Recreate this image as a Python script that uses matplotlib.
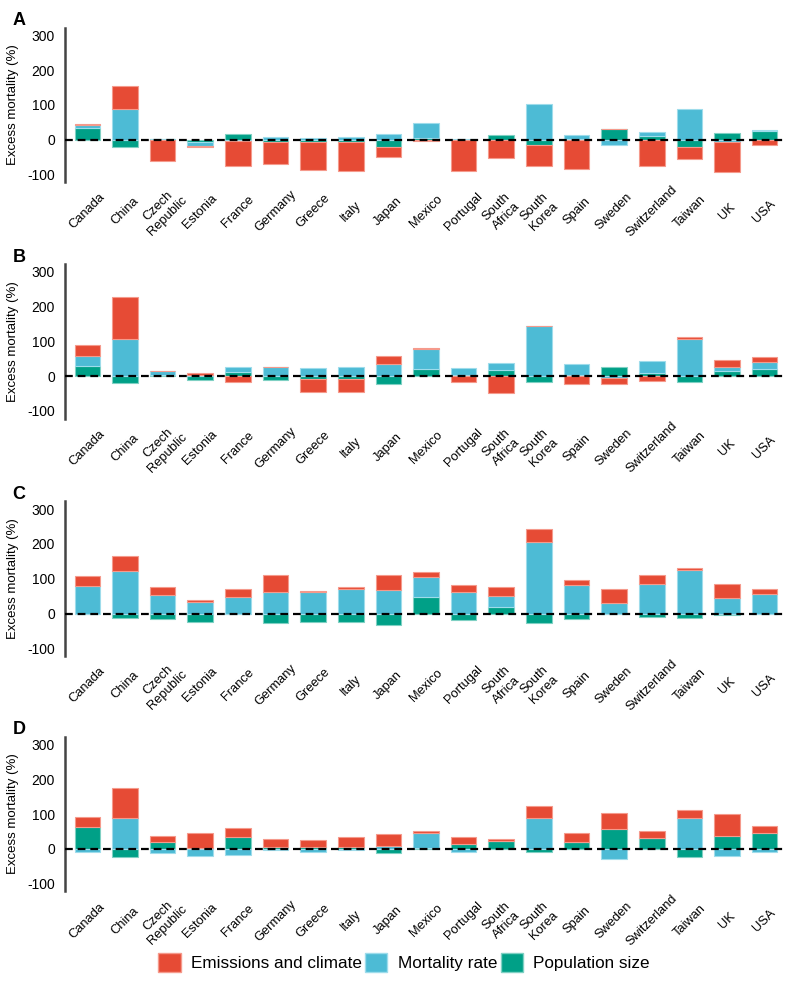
import matplotlib
matplotlib.use("Agg")
import matplotlib.pyplot as plt
from matplotlib.patches import Patch
import numpy as np

plt.rcParams['font.family'] = ['Liberation Sans', 'DejaVu Sans']

countries = ['Canada', 'China', 'Czech\nRepublic', 'Estonia', 'France', 'Germany',
             'Greece', 'Italy', 'Japan', 'Mexico', 'Portugal', 'South\nAfrica',
             'South\nKorea', 'Spain', 'Sweden', 'Switzerland', 'Taiwan', 'UK', 'USA']

# contributions to excess mortality (%)
pop_A = [33, -21, 1, -7, 17, -7, -7, -7, -20, 5, 0, 15, -15, 2, 30, 12, -21, 18, 25]
mort_A = [8, 89, 2, -12, -4, 8, 6, 8, 17, 42, 3, -2, 104, 11, -16, 11, 88, -6, 3]
emis_A = [3, 66, -61, -1, -70, -64, -79, -83, -30, -3, -89, -50, -61, -83, 0, -74, -34, -86, -14]

pop_B = [29, -19, 2, -11, 13, -12, -9, -8, -23, 20, 3, 19, -18, 2, 27, 8, -18, 14, 21]
mort_B = [28, 108, 13, 4, 12, 25, 23, 27, 34, 57, 19, 20, 145, 32, -5, 35, 107, 12, 19]
emis_B = [32, 118, 0, 5, -17, 2, -37, -37, 25, 3, -18, -49, 0, -23, -18, -13, 5, 19, 16]

pop_C = [0, -12, -17, -24, -2, -27, -24, -23, -32, 46, -20, 19, -28, -16, 0, -11, -12, -3, -2]
mort_C = [78, 123, 52, 34, 46, 63, 62, 69, 68, 60, 63, 32, 204, 82, 31, 84, 124, 45, 55]
emis_C = [31, 42, 23, 4, 24, 48, 4, 6, 43, 13, 20, 24, 39, 15, 38, 26, 8, 41, 16]

pop_D = [64, -23, 21, 3, 35, 5, 5, 6, -12, 2, 14, 22, -9, 20, 57, 30, -23, 38, 45]
mort_D = [-10, 88, -13, -20, -17, -4, -8, -3, 9, 44, -9, 0, 90, 0, -30, 0, 88, -19, -10]
emis_D = [29, 86, 15, 44, 24, 23, 20, 27, 35, 5, 21, 7, 33, 25, 46, 21, 23, 62, 22]

panels = [('A', pop_A, mort_A, emis_A),
          ('B', pop_B, mort_B, emis_B),
          ('C', pop_C, mort_C, emis_C),
          ('D', pop_D, mort_D, emis_D)]

c_emis = '#E64B35'
c_mort = '#4DBBD5'
c_pop = '#00A087'
edge = {c_emis: '#F59A8C', c_mort: '#9EDCEB', c_pop: '#7FD0C3'}

fig = plt.figure(figsize=(8, 9.85), dpi=100)

bottoms = [0.815, 0.575, 0.334, 0.095]
x = np.arange(len(countries))

for (letter, pop, mort, emis), b in zip(panels, bottoms):
    ax = fig.add_axes([0.081, b, 0.903, 0.157])
    pos_base = np.zeros(len(x))
    neg_base = np.zeros(len(x))
    # stack: population, then mortality, then emissions
    for vals, col in [(pop, c_pop), (mort, c_mort), (emis, c_emis)]:
        v = np.array(vals, dtype=float)
        base = np.where(v >= 0, pos_base, neg_base)
        ax.bar(x, v, bottom=base, width=0.68, color=col, edgecolor=edge[col],
               linewidth=0.8, zorder=2)
        pos_base = pos_base + np.where(v >= 0, v, 0)
        neg_base = neg_base + np.where(v < 0, v, 0)
    ax.axhline(0, color='black', lw=1.6, ls=(0, (3.5, 2.2)), zorder=5)

    ax.set_xlim(-0.6, 18.6)
    ax.set_ylim(-122, 322)
    ax.set_yticks([-100, 0, 100, 200, 300])
    ax.set_yticklabels(['-100', '0', '100', '200', '300'], fontsize=10)
    ax.set_xticks(x)
    ax.set_xticklabels(countries, rotation=45, ha='center', va='center', fontsize=9.3)
    ax.tick_params(axis='x', length=0, pad=21)
    ax.tick_params(axis='y', length=0, pad=7)
    for s in ['top', 'right', 'bottom']:
        ax.spines[s].set_visible(False)
    ax.spines['left'].set_color('#444444')
    ax.spines['left'].set_linewidth(1.8)
    ax.set_ylabel('Excess mortality (%)', fontsize=9.5)
    ax.yaxis.set_label_coords(-0.064, 0.5)
    fig.text(0.024, b + 0.157 + 0.007, letter, fontsize=13, fontweight='bold',
             ha='center', va='center')

handles = [Patch(facecolor=c_emis, edgecolor=edge[c_emis], label='Emissions and climate'),
           Patch(facecolor=c_mort, edgecolor=edge[c_mort], label='Mortality rate'),
           Patch(facecolor=c_pop, edgecolor=edge[c_pop], label='Population size')]
fig.legend(handles=handles, loc='center', bbox_to_anchor=(0.505, 0.023), ncol=3,
           frameon=False, fontsize=12.3, handlelength=1.3, handleheight=1.3,
           columnspacing=0.2, handletextpad=0.6)

fig.savefig('out.png', dpi=100)
